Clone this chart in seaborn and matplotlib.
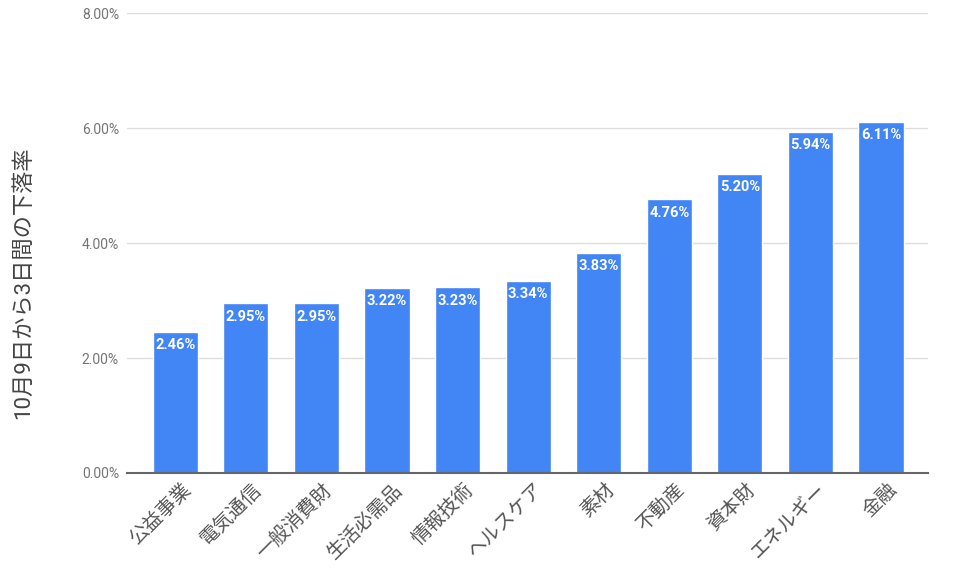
import numpy as np
import pandas as pd
import matplotlib
matplotlib.use("Agg")
import matplotlib.pyplot as plt
import matplotlib.transforms as mtransforms
import seaborn as sns
from matplotlib.ticker import PercentFormatter

sectors = ["公益事業", "電気通信", "一般消費財", "生活必需品", "情報技術", "ヘルスケア",
           "素材", "不動産", "資本財", "エネルギー", "金融"]
drop_pct = [2.46, 2.95, 2.95, 3.22, 3.23, 3.34, 3.83, 4.76, 5.20, 5.94, 6.11]
y_ticks = [0, 2, 4, 6, 8]

df = pd.DataFrame({"sector": sectors, "drop": drop_pct})

sns.set_style("white")
plt.rcParams['font.family'] = ['Roboto', 'Noto Sans CJK JP', 'DejaVu Sans']

fig = plt.figure(figsize=(9.57, 5.74), dpi=100)
ax = fig.add_axes([0.133, 0.176, 0.837, 0.801])

sns.barplot(data=df, x="sector", y="drop", color="#4285F4", saturation=1,
            width=0.64, ax=ax, zorder=3)

for i, v in enumerate(drop_pct):
    ax.text(i, v - 0.11, f"{v:.2f}%", ha="center", va="top", color="white",
            fontsize=10.5, fontweight="bold", zorder=4)

ax.set_ylim(0, 8)
ax.set_yticks(y_ticks)
ax.yaxis.set_major_formatter(PercentFormatter(decimals=2))
ax.grid(axis="y", color="#dddddd", linewidth=1, zorder=0)
ax.set_xlim(-0.68, len(sectors) - 0.33)

for s in ["top", "right", "left"]:
    ax.spines[s].set_visible(False)
ax.spines["bottom"].set_color("#666666")
ax.spines["bottom"].set_linewidth(1.5)
ax.spines["bottom"].set_zorder(5)

ax.tick_params(axis="y", length=0, labelsize=10, labelcolor="#757575", pad=6)
ax.tick_params(axis="x", length=0, labelsize=14, labelcolor="#555555", pad=5)
offset = mtransforms.ScaledTranslation(6 / 100, 0, fig.dpi_scale_trans)
for lbl in ax.get_xticklabels():
    lbl.set_rotation(45)
    lbl.set_ha("right")
    lbl.set_rotation_mode("anchor")
    lbl.set_transform(lbl.get_transform() + offset)

ax.set_xlabel("")
ax.set_ylabel("10月9日から3日間の下落率", fontsize=16, color="#444444")
ax.yaxis.set_label_coords(-0.116, 0.413)

fig.savefig("out.png", dpi=100)
